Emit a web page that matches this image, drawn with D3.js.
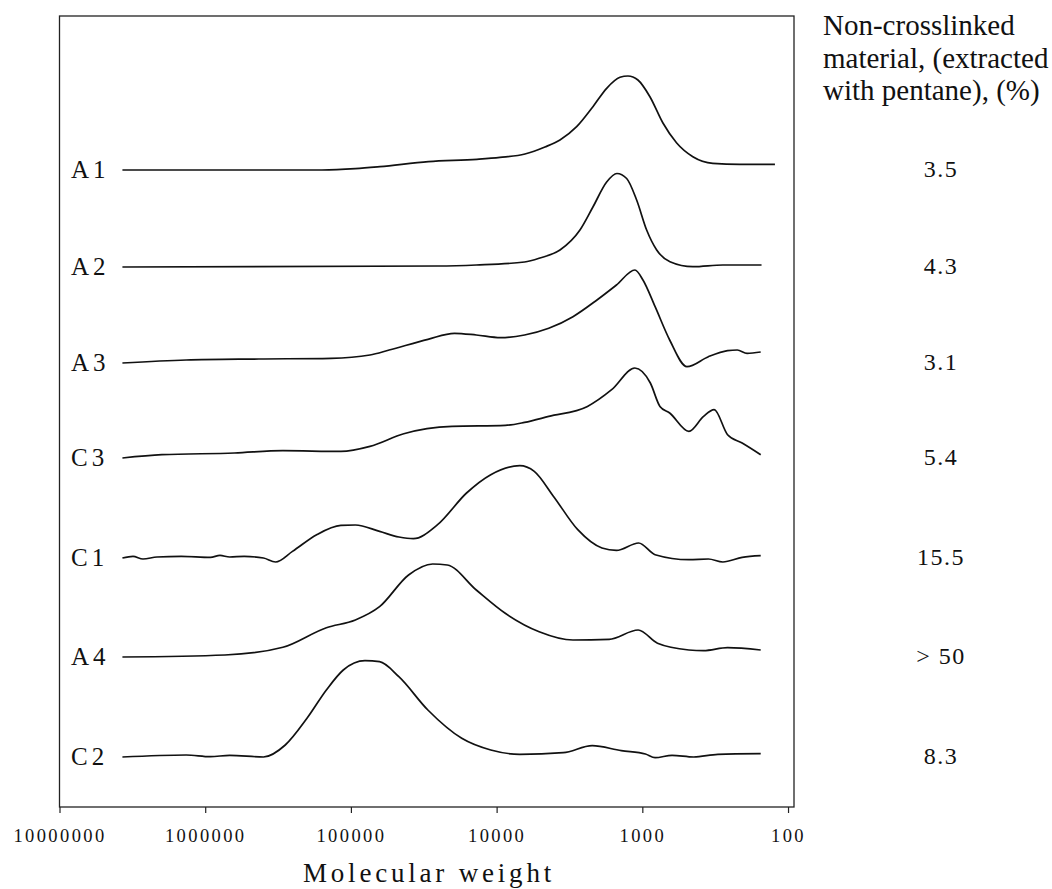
<!DOCTYPE html>
<html>
<head>
<meta charset="utf-8">
<script src="https://cdn.jsdelivr.net/npm/d3@7/dist/d3.min.js"></script>
<style>
  html, body { margin: 0; padding: 0; background: #fff; }
  svg { display: block; }
  text { font-family: "Liberation Serif", "Times New Roman", serif; fill: #111; }
</style>
</head>
<body>
<svg id="chart" width="1052" height="889"></svg>
<script>
// Sample names, top to bottom, and the pentane-extractable fraction of each
const samples = ["A1", "A2", "A3", "C3", "C1", "A4", "C2"];
const extracted = ["3.5", "4.3", "3.1", "5.4", "15.5", "> 50", "8.3"];
// Vertical offset of each trace (response units)
const offsets = [636, 539, 443, 348, 248, 149, 49];

// Molecular weight axis
const tickValues = [1e7, 1e6, 1e5, 1e4, 1e3, 1e2];
const tickLabels = ["10000000", "1000000", "100000", "10000", "1000", "100"];

// GPC traces: [molecular weight, detector response]
const traceA1 = [[3.7e6,0],[1.0e6,0],[1.58e5,0],[93200,1.3],[63200,3.3],[29400,8.3],[13640,10.7],[9487,12.6],[6390,16],[4660,23],[3675,30],[2823,43.3],[2183,63.3],[1757,81.7],[1424,92.7],[1255,94],[1072,90],[887,73.3],[722,47],[581,27],[450,13.3],[328,6.7],[214,5.7],[123,5.7]];
const traceA2 = [[3.7e6,0],[25430,1],[13790,2],[6430,5],[5040,9],[3675,17],[2680,37],[2183,60],[1757,85],[1494,93.5],[1281,88.5],[1094,67],[934,37],[797,17],[646,5.3],[450,0.3],[280,2],[152,2]];
const traceA3 = [[3.7e6,0],[1.35e6,3],[429500,4],[137000,4.7],[74000,8],[54640,13],[29590,23.7],[19470,29.7],[13790,28],[9410,25.3],[6430,28],[4387,34.7],[2993,46.3],[2048,63],[1505,78],[1124,93],[990,83],[817,56.3],[649,23],[494,-3.7],[352,6.3],[260,12.3],[223,13],[191,9.7],[154,11]];
const traceC3 = [[3.7e6,0],[1.98e6,3.3],[629700,5],[293000,7.3],[117000,6.6],[74000,11.6],[43380,24.3],[20220,31.6],[8724,32.6],[6430,35.6],[4387,41.6],[2380,51.6],[1624,68.3],[1125,90],[881,75],[757,51.6],[649,45],[479,26.6],[380,41.6],[321.5,48.3],[260,23.3],[206.5,15],[154,3.3]];
const traceC1 = [[3.7e6,0],[3.13e6,1.6],[2.673e6,-1],[2.143e6,1],[1.46e6,1.6],[921500,0.6],[791700,2.6],[679200,1],[540200,1.6],[398200,0],[328900,-4],[251800,6.6],[171800,23.3],[117200,32.6],[93200,33],[63590,26.6],[46800,21],[37270,19.3],[25430,33.3],[16080,65],[10970,83.3],[6937,92.3],[5517,86.6],[4067,61.6],[2774,28.3],[1893,10],[1505,7.6],[1060,15],[817,3.3],[479,-1.7],[352,-1],[280,-4],[206.5,0.6],[154,2.3]];
const traceA4 = [[3.7e6,0],[731600,2],[293000,9.7],[147400,29.3],[93200,37],[63590,50.3],[40210,82],[27480,93],[21820,92],[13790,67],[8724,43.7],[5105,25.3],[2993,17],[1689,17.7],[1068,27],[787,13.7],[479,7],[380,6.3],[260,9.3],[154,7]];
const traceC2 = [[3.7e6,0],[1.35e6,2],[921500,0.3],[679200,1.7],[398200,0],[282200,12],[200200,38.7],[147400,67],[112800,87],[80090,96.3],[63590,95.3],[46880,80.3],[29640,47],[17350,18.7],[10970,7],[6937,2.7],[3488,4.3],[2207,11.3],[1395,6.3],[952,3],[817,-0.7],[625,1.7],[444,0],[303,2.7],[154,3.3]];

const traces = [traceA1, traceA2, traceA3, traceC3, traceC1, traceA4, traceC2];

const svg = d3.select("#chart");
const plot = { left: 59.5, right: 794, top: 16, bottom: 807 };

// High molecular weight on the left
const x = d3.scaleLog().domain([1e7, 91]).range([plot.left, plot.right]);
const y = d3.scaleLinear().domain([0, 800]).range([806, 6]);

// Frame
svg.append("rect")
  .attr("x", plot.left).attr("y", plot.top)
  .attr("width", plot.right - plot.left).attr("height", plot.bottom - plot.top)
  .attr("fill", "none").attr("stroke", "#222").attr("stroke-width", 1.3);

// Bottom axis
const axis = d3.axisBottom(x)
  .tickValues(tickValues)
  .tickSize(6)
  .tickFormat((d, i) => tickLabels[i]);
const gx = svg.append("g").attr("transform", `translate(0,${plot.bottom})`).call(axis);
gx.select(".domain").remove();
gx.selectAll(".tick line").attr("stroke", "#222").attr("stroke-width", 1.2);
gx.selectAll(".tick text")
  .attr("y", 35).attr("dy", null)
  .attr("font-size", 18.5)
  .attr("letter-spacing", "2.4px")
  .attr("font-family", "Liberation Serif, serif")
  .attr("fill", "#111");

// Axis title
svg.append("text")
  .attr("x", 429).attr("y", 882)
  .attr("text-anchor", "middle")
  .attr("font-size", 27)
  .attr("letter-spacing", "3.8px")
  .text("Molecular weight");

// Traces
const line = d3.line().curve(d3.curveMonotoneX);
traces.forEach((tr, i) => {
  line.x(d => x(d[0])).y(d => y(d[1] + offsets[i]));
  svg.append("path")
    .datum(tr)
    .attr("d", line)
    .attr("fill", "none")
    .attr("stroke", "#111")
    .attr("stroke-width", 1.7)
    .attr("stroke-linejoin", "round");
});

// Sample labels at the left of each trace
svg.selectAll("text.sample")
  .data(samples)
  .join("text")
  .attr("class", "sample")
  .attr("x", 71)
  .attr("y", (d, i) => y(offsets[i]) + 8)
  .attr("font-size", 25)
  .attr("letter-spacing", "4px")
  .text(d => d);

// Right-hand column heading
const heading = ["Non-crosslinked", "material, (extracted", "with pentane), (%)"];
svg.selectAll("text.heading")
  .data(heading)
  .join("text")
  .attr("class", "heading")
  .attr("x", 823)
  .attr("y", (d, i) => 35 + i * 32.5)
  .attr("font-size", 29)
  .text(d => d);

// Extracted fraction for each sample
svg.selectAll("text.extract")
  .data(extracted)
  .join("text")
  .attr("class", "extract")
  .attr("x", 941)
  .attr("y", (d, i) => y(offsets[i]) + 7)
  .attr("text-anchor", "middle")
  .attr("font-size", 24)
  .attr("letter-spacing", "1.5px")
  .text(d => d);
</script>
</body>
</html>
